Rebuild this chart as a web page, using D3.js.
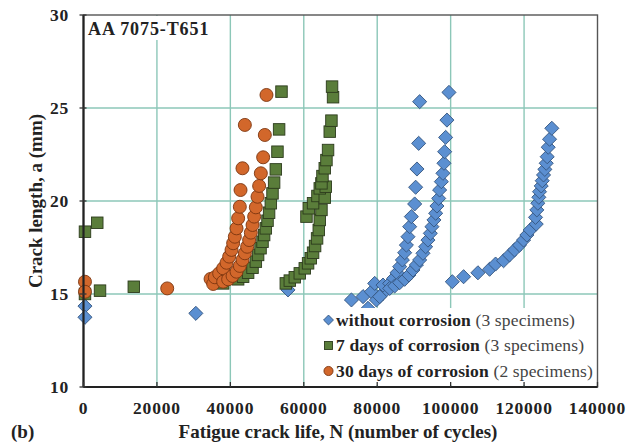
<!DOCTYPE html>
<html><head><meta charset="utf-8">
<script src="https://cdn.jsdelivr.net/npm/d3@7"></script>
<style>body{margin:0;background:#fff}svg{display:block}text{font-family:"Liberation Serif","DejaVu Serif",serif}</style>
</head><body><svg id="c" width="628" height="445"></svg>
<script>
const xTicks = [0,20000,40000,60000,80000,100000,120000,140000];
const yTicks = [10,15,20,25,30];
const seriesNames = ["without corrosion","7 days of corrosion","30 days of corrosion"];
const seriesNotes = ["(3 specimens)","(3 specimens)","(2 specimens)"];
const withoutCorrosion = [
 [400,14.35],[400,13.75],[30600,13.96],[55700,15.22],
 [72980,14.68],[76140,14.86],[77500,14.23],[78420,15.12],[79320,15.57],[79780,14.68],[81580,15.04],[81580,15.48],[83400,15.57],[84490,15.84],[85390,16.14],[86120,16.47],[86860,16.83],[87480,17.22],[87950,17.63],[88380,18.08],[88840,18.62],[89300,19.16],[90200,19.84],[90470,20.74],[90830,21.72],[91290,23.10],[91560,25.34],
 [80680,14.86],[83400,15.30],[84760,15.43],[86120,15.61],[87480,15.79],[88650,16.02],[89740,16.29],[90670,16.56],[91560,16.83],[92460,17.19],[93190,17.54],[93820,17.90],[94470,18.26],[94910,18.62],[95450,18.98],[95920,19.34],[96270,19.73],[96740,20.14],[97000,20.59],[97470,21.04],[97900,21.49],[98180,22.03],[98370,22.65],[98640,23.42],[98990,24.35],[99540,25.84],
 [100460,15.66],[103530,15.93],[107430,16.14],[110610,16.33],[112240,16.61],[114420,16.79],[116050,17.10],[117410,17.37],[118770,17.63],[119860,17.90],[120760,18.17],[121670,18.44],[123310,18.76],[123120,19.12],[123480,19.52],[123750,19.88],[124020,20.20],[124210,20.50],[124670,20.81],[124950,21.09],[125300,21.40],[125660,21.70],[126030,22.03],[126300,22.38],[126570,22.89],[126940,23.32],[127560,23.91]
];
const sevenDays = [
 [400,18.35],[3750,18.83],[400,15.0],[4500,15.18],[13700,15.39],
 [38040,15.57],[42120,15.79],[43480,15.93],[44840,16.14],[46040,16.41],[46940,16.74],[47560,17.10],[48220,17.46],[48760,17.81],[49200,18.17],[49660,18.53],[50120,18.94],[50550,19.37],[51020,19.88],[51480,20.41],[51920,20.99],[52380,21.70],[52830,22.65],[53280,23.85],[53930,25.88],
 [55100,15.57],[56190,15.72],[57550,15.90],[58910,16.11],[60270,16.38],[61170,16.65],[61900,16.92],[62530,17.22],[63080,17.58],[63620,17.99],[64080,18.44],[64350,18.98],[64810,19.52],[60730,19.16],[61360,19.61],[62530,19.88],[63720,20.27],[65710,20.18],[64350,20.68],[65980,20.77],[64810,20.95],[65090,21.34],[65710,21.76],[66170,22.20],[66610,22.74],[67070,23.73],[67530,24.32],[67970,25.58],[67700,26.15]
];
const thirtyDays = [
 [400,15.66],[400,15.12],[22800,15.3],
 [34610,15.81],[35320,15.54],[35780,15.90],[36950,16.11],[38040,16.38],[38960,16.68],[39680,17.01],[40320,17.37],[40760,17.73],[41220,18.08],[41680,18.53],[42120,19.07],[42580,19.69],[42770,20.59],[43300,21.76],[43950,24.09],
 [38040,15.66],[39400,15.79],[40600,15.97],[41680,16.20],[42580,16.51],[43320,16.83],[43950,17.19],[44570,17.54],[45120,17.90],[45580,18.30],[46040,18.71],[46480,19.16],[46940,19.66],[47400,20.23],[47840,20.81],[48300,21.49],[48930,22.35],[49390,23.55],[49840,25.70]
];

const svg = d3.select("#c");
const L=83.5, R=597.5, T=15, B=387;
const x = d3.scaleLinear().domain([0,140000]).range([L,R]);
const y = d3.scaleLinear().domain([10,30]).range([B,T]);
const grid = "#8cc7b8";

// gridlines
svg.append("g").selectAll("line").data(xTicks.slice(1,-1)).join("line")
  .attr("x1",d=>x(d)).attr("x2",d=>x(d)).attr("y1",T).attr("y2",B)
  .attr("stroke",grid).attr("stroke-width",1.4);
svg.append("g").selectAll("line").data(yTicks.slice(1,-1)).join("line")
  .attr("y1",d=>y(d)).attr("y2",d=>y(d)).attr("x1",L).attr("x2",R)
  .attr("stroke",grid).attr("stroke-width",1.4);

// title box
svg.append("rect").attr("x",L+1).attr("y",T+1).attr("width",132).attr("height",24).attr("fill","#fff");
svg.append("text").attr("x",88).attr("y",35).attr("font-weight","bold").attr("font-size",18).attr("letter-spacing",0.9).attr("fill","#222").text("AA 7075-T651");

// border
svg.append("rect").attr("x",L).attr("y",T).attr("width",R-L).attr("height",B-T)
  .attr("fill","none").attr("stroke","#555").attr("stroke-width",1.4);

const specs = [
  {data:withoutCorrosion, sym:"diamond", fill:"#5b8fd1", stroke:"#34557e", size:9.8},
  {data:sevenDays, sym:"square", fill:"#5a7d3a", stroke:"#2c3b1c", size:11.5},
  {data:thirtyDays, sym:"circle", fill:"#d2672b", stroke:"#7c3510", size:13}
];
function drawMarker(g, s, cx, cy, scale){
  const k = scale||1;
  if(s.sym==="diamond"){
    const h = s.size*0.72*k;
    g.append("path").attr("d",`M${cx},${cy-h}L${cx+h},${cy}L${cx},${cy+h}L${cx-h},${cy}Z`)
     .attr("fill",s.fill).attr("stroke",s.stroke).attr("stroke-width",0.9);
  } else if(s.sym==="square"){
    const h = s.size/2*k;
    g.append("rect").attr("x",cx-h).attr("y",cy-h).attr("width",2*h).attr("height",2*h)
     .attr("fill",s.fill).attr("stroke",s.stroke).attr("stroke-width",0.9);
  } else {
    g.append("circle").attr("cx",cx).attr("cy",cy).attr("r",s.size/2*k)
     .attr("fill",s.fill).attr("stroke",s.stroke).attr("stroke-width",0.9);
  }
}
specs.forEach(s=>{
  const g = svg.append("g");
  s.data.forEach(d=>drawMarker(g,s,x(d[0]),y(d[1])));
});

// legend
const lg = svg.append("g");
lg.append("rect").attr("x",321).attr("y",308).attr("width",274).attr("height",77).attr("fill","#fff");
specs.forEach((s,i)=>{
  const cy = 320 + i*25.5;
  drawMarker(lg, s, 328.5, cy, 0.7);
  const t = lg.append("text").attr("x",336).attr("y",cy+5.5).attr("font-size",17.5).attr("letter-spacing",0.15).attr("fill","#222");
  t.append("tspan").attr("font-weight","bold").text(seriesNames[i]);
  t.append("tspan").attr("fill","#444").text(" "+seriesNotes[i]);
});

// axes lines
svg.append("line").attr("x1",L).attr("x2",L).attr("y1",T).attr("y2",B).attr("stroke","#222").attr("stroke-width",2.2);
svg.append("line").attr("x1",L).attr("x2",R).attr("y1",B).attr("y2",B).attr("stroke","#222").attr("stroke-width",2.2);
// ticks
svg.append("g").selectAll("line").data(xTicks).join("line")
  .attr("x1",d=>x(d)).attr("x2",d=>x(d)).attr("y1",B-5).attr("y2",B).attr("stroke","#333").attr("stroke-width",1.3);
svg.append("g").selectAll("line").data(yTicks).join("line")
  .attr("y1",d=>y(d)).attr("y2",d=>y(d)).attr("x1",L-4).attr("x2",L+3).attr("stroke","#333").attr("stroke-width",1.3);
// tick labels
svg.append("g").selectAll("text").data(xTicks).join("text")
  .attr("x",d=>x(d)).attr("y",414).attr("text-anchor","middle").attr("font-weight","bold")
  .attr("font-size",17.5).attr("letter-spacing",0.8).attr("fill","#222").text(d=>d);
svg.append("g").selectAll("text").data(yTicks).join("text")
  .attr("x",69).attr("y",d=>y(d)+6).attr("text-anchor","end").attr("font-weight","bold")
  .attr("font-size",17.5).attr("letter-spacing",0.8).attr("fill","#222").text(d=>d);

// axis titles
svg.append("text").attr("x",338).attr("y",438).attr("text-anchor","middle").attr("font-weight","bold")
  .attr("font-size",19).attr("fill","#222").text("Fatigue crack life, N (number of cycles)");
svg.append("text").attr("transform","translate(42,201) rotate(-90)").attr("text-anchor","middle").attr("font-weight","bold")
  .attr("font-size",19).attr("fill","#222").text("Crack length, a (mm)");
svg.append("text").attr("x",11).attr("y",438).attr("font-weight","bold").attr("font-size",19).attr("fill","#222").text("(b)");
</script></body></html>
